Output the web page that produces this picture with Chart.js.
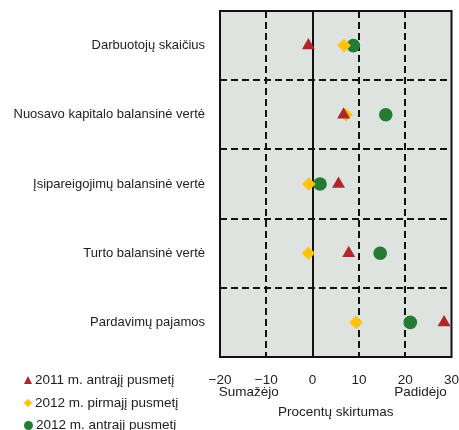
<!DOCTYPE html>
<html>
<head>
<meta charset="utf-8">
<script src="https://cdn.jsdelivr.net/npm/chart.js@4/dist/chart.umd.min.js"></script>
<style>
  html, body { margin: 0; padding: 0; background: #fff; }
  #wrap { position: relative; width: 459px; height: 430px; overflow: hidden; }
  #legend { position: absolute; left: 24px; top: 369px; font: 13.5px "Liberation Sans", Arial, sans-serif; color: #222; }
  .item { height: 22.5px; line-height: 20px; white-space: nowrap; display: flex; align-items: center; }
  .mk { width: 9px; height: 9px; margin-right: 3px; display: inline-block; position: relative; }
  .tri { width: 0; height: 0; border-left: 4.5px solid transparent; border-right: 4.5px solid transparent; border-bottom: 8px solid #b0272b; }
  .dia { width: 6px; height: 6px; background: #ffc20e; transform: rotate(45deg); margin: 0 4px 0 1px; }
  .cir { width: 9px; height: 9px; border-radius: 50%; background: #247b33; }
</style>
</head>
<body>
<div id="wrap">
  <canvas id="chart" width="459" height="430"></canvas>
  <div id="legend"></div>
</div>
<script>
const categories = [
  'Darbuotojų skaičius',
  'Nuosavo kapitalo balansinė vertė',
  'Įsipareigojimų balansinė vertė',
  'Turto balansinė vertė',
  'Pardavimų pajamos'
];
const seriesNames = ['2011 m. antrajį pusmetį', '2012 m. pirmajį pusmetį', '2012 m. antrajį pusmetį'];
const h2_2011 = [-0.9, 6.7, 5.6, 7.8, 28.4];
const h1_2012 = [6.8, 7.2, -0.8, -0.9, 9.4];
const h2_2012 = [8.8, 15.8, 1.6, 14.6, 21.1];
const xTicks = [-20, -10, 0, 10, 20, 30];

const font = '"Liberation Sans", Arial, sans-serif';
const colors = ['#b0272b', '#ffc20e', '#247b33'];
const shapes = ['triangle', 'rectRot', 'circle'];
const radii = [7.5, 6.8, 6.8];

function toPoints(values) {
  return values.map((v, i) => ({ x: v, y: categories[i] }));
}

function noPad(s) {
  s.paddingLeft = 0; s.paddingRight = 0; s.paddingTop = 0; s.paddingBottom = 0;
}

const gridPlugin = {
  id: 'gridPlugin',
  beforeDatasetsDraw(chart) {
    const c = chart.ctx;
    const a = chart.chartArea;
    const xs = chart.scales.x;
    const ys = chart.scales.y;
    c.save();
    c.fillStyle = '#dfe3df';
    c.fillRect(a.left, a.top, a.right - a.left, a.bottom - a.top);
    c.strokeStyle = '#111';
    c.lineWidth = 2;
    c.setLineDash([7, 4]);
    xTicks.forEach(t => {
      if (t === 0 || t === xTicks[0] || t === xTicks[xTicks.length - 1]) return;
      const px = Math.round(xs.getPixelForValue(t));
      c.beginPath(); c.moveTo(px, a.top); c.lineTo(px, a.bottom); c.stroke();
    });
    for (let i = 0; i < categories.length - 1; i++) {
      const py = Math.round((ys.getPixelForValue(i) + ys.getPixelForValue(i + 1)) / 2);
      c.beginPath(); c.moveTo(a.left, py); c.lineTo(a.right, py); c.stroke();
    }
    c.setLineDash([]);
    const zx = Math.round(xs.getPixelForValue(0));
    c.beginPath(); c.moveTo(zx, a.top); c.lineTo(zx, a.bottom); c.stroke();
    c.strokeRect(a.left, a.top, a.right - a.left, a.bottom - a.top);
    c.restore();
  },
  afterDraw(chart) {
    const c = chart.ctx;
    const xs = chart.scales.x;
    c.save();
    c.fillStyle = '#222';
    c.font = '13.5px ' + font;
    c.textAlign = 'center';
    c.textBaseline = 'middle';
    c.fillText('Sumažėjo', xs.getPixelForValue(-13.8), 392);
    c.fillText('Padidėjo', xs.getPixelForValue(23.3), 392);
    c.fillText('Procentų skirtumas', xs.getPixelForValue(5), 412);
    c.restore();
  }
};

const datasets = [h2_2011, h1_2012, h2_2012].map((vals, k) => ({
  label: seriesNames[k],
  data: toPoints(vals),
  pointStyle: shapes[k],
  pointRadius: radii[k],
  pointHoverRadius: radii[k],
  backgroundColor: colors[k],
  borderColor: colors[k],
  borderWidth: 0
}));

const chart = new Chart(document.getElementById('chart'), {
  type: 'scatter',
  data: { datasets: datasets },
  options: {
    responsive: false,
    animation: false,
    layout: { padding: { top: 11, right: 7, left: 0, bottom: 0 } },
    plugins: { legend: { display: false }, tooltip: { enabled: false } },
    scales: {
      x: {
        type: 'linear',
        min: -20, max: 30,
        afterBuildTicks: s => { s.ticks = xTicks.map(v => ({ value: v })); },
        afterFit: s => { s.height = 73; noPad(s); },
        grid: { display: false },
        border: { display: false },
        ticks: {
          padding: 7,
          color: '#222',
          maxRotation: 0,
          autoSkip: false,
          font: { size: 13.5, family: font },
          callback: v => String(v).replace('-', '\u2212')
        }
      },
      y: {
        type: 'category',
        labels: categories,
        offset: true,
        afterFit: s => { s.width = 220; noPad(s); },
        grid: { display: false },
        border: { display: false },
        ticks: {
          padding: 7,
          color: '#222',
          font: { size: 13, family: font }
        }
      }
    }
  },
  plugins: [gridPlugin]
});

const legend = document.getElementById('legend');
const mkClass = ['tri', 'dia', 'cir'];
seriesNames.forEach((name, k) => {
  const row = document.createElement('div');
  row.className = 'item';
  const m = document.createElement('span');
  m.className = 'mk ' + mkClass[k];
  row.appendChild(m);
  row.appendChild(document.createTextNode(name));
  legend.appendChild(row);
});
</script>
</body>
</html>
